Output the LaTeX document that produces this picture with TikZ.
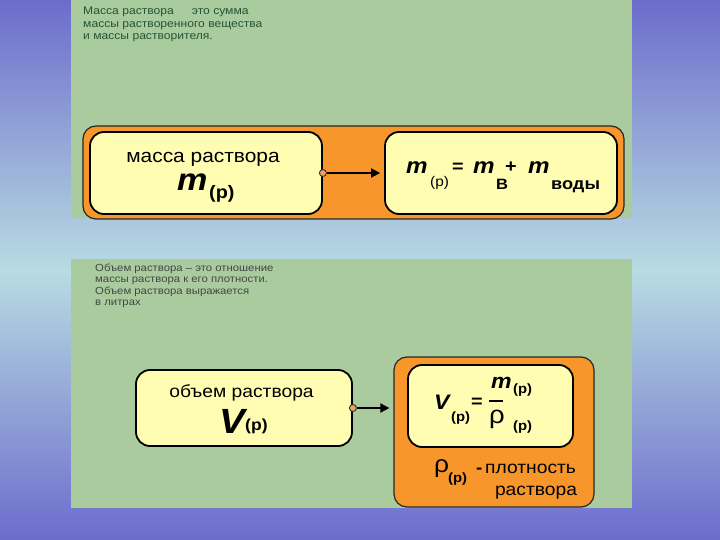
\documentclass[tikz,border=0pt]{standalone}
\usepackage{fontspec}
\setmainfont{Liberation Sans}[FakeStretch=1.1]
\usetikzlibrary{arrows.meta}
\definecolor{greenp}{HTML}{AACB9D}
\definecolor{orangec}{HTML}{F7962B}
\definecolor{yellowc}{HTML}{FFFDB2}
\definecolor{bgtop}{HTML}{6C6CCC}
\definecolor{bgmid}{HTML}{B8DCE2}
\definecolor{txtgreen}{HTML}{245436}
\definecolor{txtgray}{HTML}{404846}
\definecolor{dotc}{HTML}{E9A062}
\newcommand\fsz[1]{\fontsize{#1}{#1}\selectfont}
\begin{document}
\begin{tikzpicture}[x=1pt,y=-1pt,
  ybox/.style={draw=black,line width=1.8pt,fill=yellowc,rounded corners=14pt,inner sep=0pt},
  obox/.style={draw=black!85,line width=1.2pt,fill=orangec,rounded corners=13pt,inner sep=0pt},
  dotn/.style={circle,draw=black!80,line width=0.9pt,fill=dotc,minimum size=7pt,inner sep=0pt},
  arr/.style={line width=1.8pt,-{Triangle[length=9pt,width=9pt]},shorten >=4pt},
  txt/.style={inner sep=0pt,anchor=base west},
  small1/.style={txt,text=txtgreen,font=\fsz{11}},
  small2/.style={txt,text=txtgray,font=\fsz{10.3}}]
\useasboundingbox (0,0) rectangle (720,540);
\shade[top color=bgtop,bottom color=bgtop,middle color=bgmid] (0,0) rectangle (720,540);
% green panels
\fill[greenp] (71,0) rectangle (632,218);
\fill[greenp] (71,259) rectangle (632,508);
% top text
\node[small1] (t1a) at (83,15) {Масса раствора\hspace*{18pt}это сумма};
\node[small1] (t1b) at (83,27.5) {массы растворенного вещества};
\node[small1] (t1c) at (83,40) {и массы растворителя.};
% upper diagram
\node[obox,minimum width=541pt,minimum height=93pt] (bar1) at (353.5,172.5) {};
\node[ybox,minimum width=232pt,minimum height=82pt] (lbox1) at (206,173) {};
\node[ybox,minimum width=232pt,minimum height=82pt] (rbox1) at (501,173) {};
\node[dotn] (c1) at (lbox1.east) {};
\draw[arr] (c1) -- (rbox1.west);
\node[txt,anchor=base] (lt1) at (203,163) {\fsz{19}масса раствора};
\node[txt] (m0) at (177,191) {\fsz{31}\bfseries\itshape m};
\node[txt] (p0) at (209,199) {\fsz{18}\bfseries (р)};
\node[txt] (m1) at (406,174) {\fsz{22}\bfseries\itshape m};
\node[txt] (p1) at (430,187) {\fsz{14}(р)};
\node[txt] (eq1) at (452,173) {\fsz{18}\bfseries =};
\node[txt] (m2) at (473,174) {\fsz{22}\bfseries\itshape m};
\node[txt] (b1) at (496,190) {\fsz{15}\bfseries В};
\node[txt] (pl1) at (505,173) {\fsz{18}\bfseries +};
\node[txt] (m3) at (528,174) {\fsz{22}\bfseries\itshape m};
\node[txt] (vody) at (551,190) {\fsz{16.5}\bfseries воды};
% lower text
\node[small2] (t2a) at (95,271) {Объем раствора – это отношение};
\node[small2] (t2b) at (95,282.5) {массы раствора к его плотности.};
\node[small2] (t2c) at (95,294) {Объем раствора выражается};
\node[small2] (t2d) at (95,305.5) {в литрах};
% lower diagram
\node[ybox,minimum width=216pt,minimum height=76pt] (lbox2) at (244,408) {};
\node[obox,minimum width=200pt,minimum height=150pt] (obox2) at (494,432) {};
\node[ybox,minimum width=165pt,minimum height=82pt] (rbox2) at (490.5,406) {};
\node[dotn] (c2) at (lbox2.east) {};
\draw[arr] (c2) -- (c2 -| obox2.west);
\node[txt,anchor=base] (lt2) at (241.5,397) {\fsz{17.5}объем раствора};
\node[txt] (V0) at (219,433) {\fsz{35}\bfseries\itshape V};
\node[txt] (p2) at (245,430) {\fsz{16}\bfseries (р)};
\node[txt] (V1) at (434,409) {\fsz{21}\bfseries\itshape V};
\node[txt] (p3) at (451,421) {\fsz{13.5}\bfseries (р)};
\node[txt] (eq2) at (471,407) {\fsz{18}\bfseries =};
\coordinate (fb1) at (489,401);
\coordinate (fb2) at (503,401);
\draw[line width=2.4pt] (fb1) -- (fb2);
\node[txt] (m4) at (491,388) {\fsz{21}\bfseries\itshape m};
\node[txt] (p4) at (513,393) {\fsz{13.5}\bfseries (р)};
\node[txt] (rho1) at (489,423) {\fsz{25}ρ};
\node[txt] (p5) at (513,430) {\fsz{13.5}\bfseries (р)};
\node[txt] (rho2) at (434,472) {\fsz{24}ρ};
\node[txt] (p6) at (448,482) {\fsz{13.5}\bfseries (р)};
\node[txt] (dash) at (476,473) {\fsz{17}\bfseries -};
\node[txt] (plot) at (485,473) {\fsz{17.5}плотность};
\node[txt,anchor=base] (rastv) at (536,495) {\fsz{17.5}раствора};
\end{tikzpicture}
\end{document}
